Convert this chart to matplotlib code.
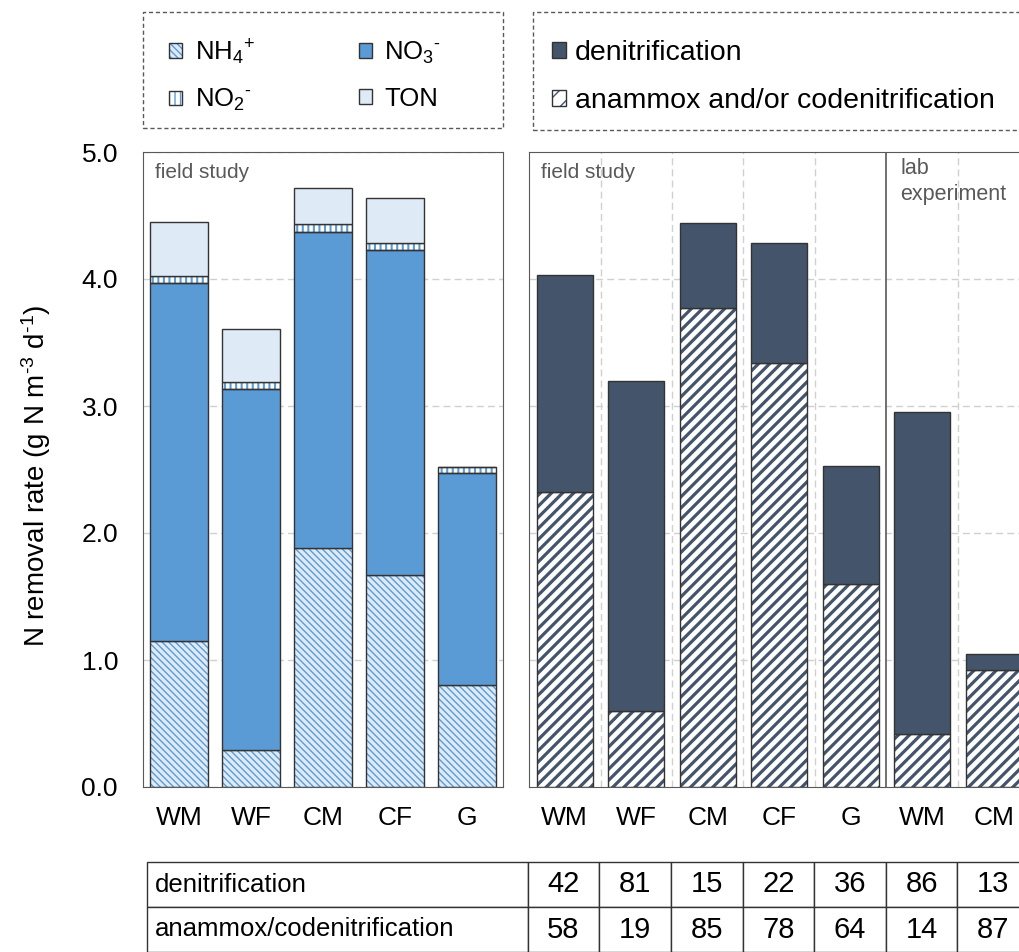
import matplotlib
matplotlib.use('Agg')
import matplotlib.pyplot as plt
import matplotlib.patches as mpatches
import numpy as np

plt.rcParams['font.family'] = ['Liberation Sans', 'DejaVu Sans']
plt.rcParams['mathtext.fontset'] = 'custom'
plt.rcParams['mathtext.rm'] = 'Liberation Sans'
plt.rcParams['mathtext.it'] = 'Liberation Sans:italic'
plt.rcParams['mathtext.bf'] = 'Liberation Sans:bold'
plt.rcParams['hatch.linewidth'] = 1.0

# field study: N removal by source (g N m-3 d-1)
sites_field = ['WM', 'WF', 'CM', 'CF', 'G']
nh4 = [1.15, 0.29, 1.88, 1.67, 0.80]
no3 = [2.82, 2.84, 2.49, 2.56, 1.67]
no2 = [0.05, 0.06, 0.06, 0.05, 0.05]
ton = [0.43, 0.42, 0.29, 0.36, 0.0]

# pathways: field study (5) + lab experiment (2)
sites_all = ['WM', 'WF', 'CM', 'CF', 'G', 'WM', 'CM']
anammox = [2.32, 0.60, 3.77, 3.34, 1.60, 0.42, 0.92]
denit = [1.71, 2.60, 0.67, 0.94, 0.93, 2.53, 0.13]

row_labels = ['denitrification', 'anammox/codenitrification']
pct_denit = [42, 81, 15, 22, 36, 86, 13]
pct_anammox = [58, 19, 85, 78, 64, 14, 87]

blue = '#5B9BD5'
light = '#DEEBF7'
dark = '#44546A'
edge = '#333333'
grey = '#595959'

W, H = 1019, 952
fig = plt.figure(figsize=(W / 100, H / 100), dpi=100)


def px(x0, y0, x1, y1):
    return [x0 / W, 1 - y1 / H, (x1 - x0) / W, (y1 - y0) / H]


def hatched(ax, x, h, bottom, width, face, hatch, hcolor, hlw):
    with plt.rc_context({'hatch.linewidth': hlw}):
        bars = ax.bar(x, h, width, bottom=bottom, color=face, edgecolor=hcolor,
                      hatch=hatch, linewidth=0, zorder=2)
    for b in bars:
        if hasattr(b, 'set_hatch_linewidth'):
            b.set_hatch_linewidth(hlw)
    ax.bar(x, h, width, bottom=bottom, fill=False, edgecolor=edge,
           linewidth=1, zorder=3)


ax1 = fig.add_axes(px(143, 152, 503, 787))
ax2 = fig.add_axes(px(529, 152, 1029.5, 787))

# left panel
x1 = np.arange(len(sites_field))
b1 = np.array(nh4)
b2 = b1 + np.array(no3)
b3 = b2 + np.array(no2)
hatched(ax1, x1, nh4, 0, 0.8, light, '\\\\\\\\\\', blue, 1.0)
ax1.bar(x1, no3, 0.8, bottom=b1, color=blue, edgecolor=edge, linewidth=1, zorder=3)
hatched(ax1, x1, no2, b2, 0.8, 'white', '|||', blue, 1.5)
ax1.bar(x1, ton, 0.8, bottom=b3, color=light, edgecolor=edge, linewidth=1, zorder=3)

ax1.set_xlim(-0.5, 4.5)
ax1.set_ylim(0, 5)
ax1.set_yticks([0, 1, 2, 3, 4, 5])
ax1.set_yticklabels(['%.1f' % v for v in [0, 1, 2, 3, 4, 5]])
ax1.set_xticks(x1)
ax1.set_xticklabels(sites_field)
ax1.yaxis.grid(True, linestyle=(0, (5, 3)), color='#d0d0d0', linewidth=1)
ax1.set_axisbelow(True)
ax1.tick_params(axis='both', length=0, labelsize=19)
ax1.tick_params(axis='x', pad=14)
ax1.tick_params(axis='y', pad=18)
for s in ax1.spines.values():
    s.set_color(grey)
ax1.set_ylabel(r'N removal rate (g N m$^{\text{-3}}$ d$^{\text{-1}}$)', fontsize=20)
ax1.yaxis.set_label_coords(-0.25, 0.49)
ax1.text(12 / 360, 1 - 11 / 635, 'field study', transform=ax1.transAxes,
         ha='left', va='top', fontsize=15, color=grey)

# right panel
x2 = np.arange(len(sites_all))
hatched(ax2, x2, anammox, 0, 0.78, 'white', '///', dark, 2.3)
ax2.bar(x2, denit, 0.78, bottom=anammox, color=dark, edgecolor=edge,
        linewidth=1, zorder=3)
ax2.set_xlim(-0.5, 6.5)
ax2.set_ylim(0, 5)
ax2.set_yticks([1, 2, 3, 4])
ax2.set_yticklabels([])
ax2.set_xticks(x2)
ax2.set_xticklabels(sites_all)
ax2.yaxis.grid(True, linestyle=(0, (5, 3)), color='#d0d0d0', linewidth=1)
for xv in [0.5, 1.5, 2.5, 3.5, 5.5]:
    ax2.axvline(xv, linestyle=(0, (5, 3)), color='#d0d0d0', linewidth=1, zorder=0)
ax2.axvline(4.5, color=grey, linewidth=1.2, zorder=4)
ax2.set_axisbelow(True)
ax2.tick_params(axis='both', length=0, labelsize=19)
ax2.tick_params(axis='x', pad=14)
for s in ax2.spines.values():
    s.set_color(grey)
ax2.text(12 / 500.5, 1 - 11 / 635, 'field study', transform=ax2.transAxes,
         ha='left', va='top', fontsize=15, color=grey)
ax2.text(4.5 + 14 / 71.5, 1 - 6 / 635, 'lab\nexperiment',
         transform=ax2.get_xaxis_transform(), ha='left', va='top',
         fontsize=15.5, color=grey, linespacing=1.3)

# legend boxes
for box in [(143, 12, 503, 128), (533, 12, 1040, 130)]:
    r = mpatches.Rectangle((box[0] / W, 1 - box[3] / H), (box[2] - box[0]) / W,
                           (box[3] - box[1]) / H, transform=fig.transFigure,
                           fill=False, edgecolor=grey, linewidth=1,
                           linestyle=(0, (3, 2)))
    fig.add_artist(r)

outline = mpatches.Patch(facecolor='none', edgecolor=edge, linewidth=1)
h_nh4 = (mpatches.Patch(facecolor=light, edgecolor=blue, hatch='\\\\\\\\\\', linewidth=0), outline)
h_no2 = (mpatches.Patch(facecolor='white', edgecolor=blue, hatch='|||', linewidth=0), outline)
h_no3 = mpatches.Patch(facecolor=blue, edgecolor=edge, linewidth=1)
h_ton = mpatches.Patch(facecolor=light, edgecolor=edge, linewidth=1)
leg1 = fig.legend([h_nh4, h_no2, h_no3, h_ton],
                  [r'NH$_4$$^{+}$', r'NO$_2$$^{\text{-}}$', r'NO$_3$$^{\text{-}}$', 'TON'],
                  ncol=2, loc='upper left', bbox_to_anchor=(169 / W, 1 - 37 / H),
                  frameon=False, fontsize=18.5, handlelength=0.5, handleheight=0.5,
                  handletextpad=0.5, columnspacing=4.05, labelspacing=0.8,
                  borderpad=0, borderaxespad=0)

with plt.rc_context({'hatch.linewidth': 2.0}):
    h_ana = (mpatches.Patch(facecolor='white', edgecolor=dark, hatch='//', linewidth=0), outline)
h_den = mpatches.Patch(facecolor=dark, edgecolor=edge, linewidth=1)
leg2 = fig.legend([h_den, h_ana], ['denitrification', 'anammox and/or codenitrification'],
                  loc='upper left', bbox_to_anchor=(552 / W, 1 - 40 / H),
                  frameon=False, fontsize=20.5, handlelength=0.5, handleheight=0.5,
                  handletextpad=0.3, labelspacing=0.78, borderpad=0, borderaxespad=0)

# table of pathway percentages
tax = fig.add_axes(px(147, 862, 1029, 952))
tax.axis('off')
cells = [[row_labels[0]] + [str(v) for v in pct_denit],
         [row_labels[1]] + [str(v) for v in pct_anammox]]
tbl = tax.table(cellText=cells, colWidths=[380 / 882] + [71.5 / 882] * 7,
                cellLoc='center', bbox=[0, 0, 1, 1])
tbl.auto_set_font_size(False)
for (r, c), cell in tbl.get_celld().items():
    cell.set_edgecolor(edge)
    cell.set_linewidth(1)
    if c == 0:
        cell.PAD = 0.02
        cell.set_text_props(ha='left', fontsize=18.5)
    else:
        cell.set_text_props(fontsize=21, family=['Liberation Sans Narrow', 'Liberation Sans'])

fig.savefig('out.png', dpi=100)
